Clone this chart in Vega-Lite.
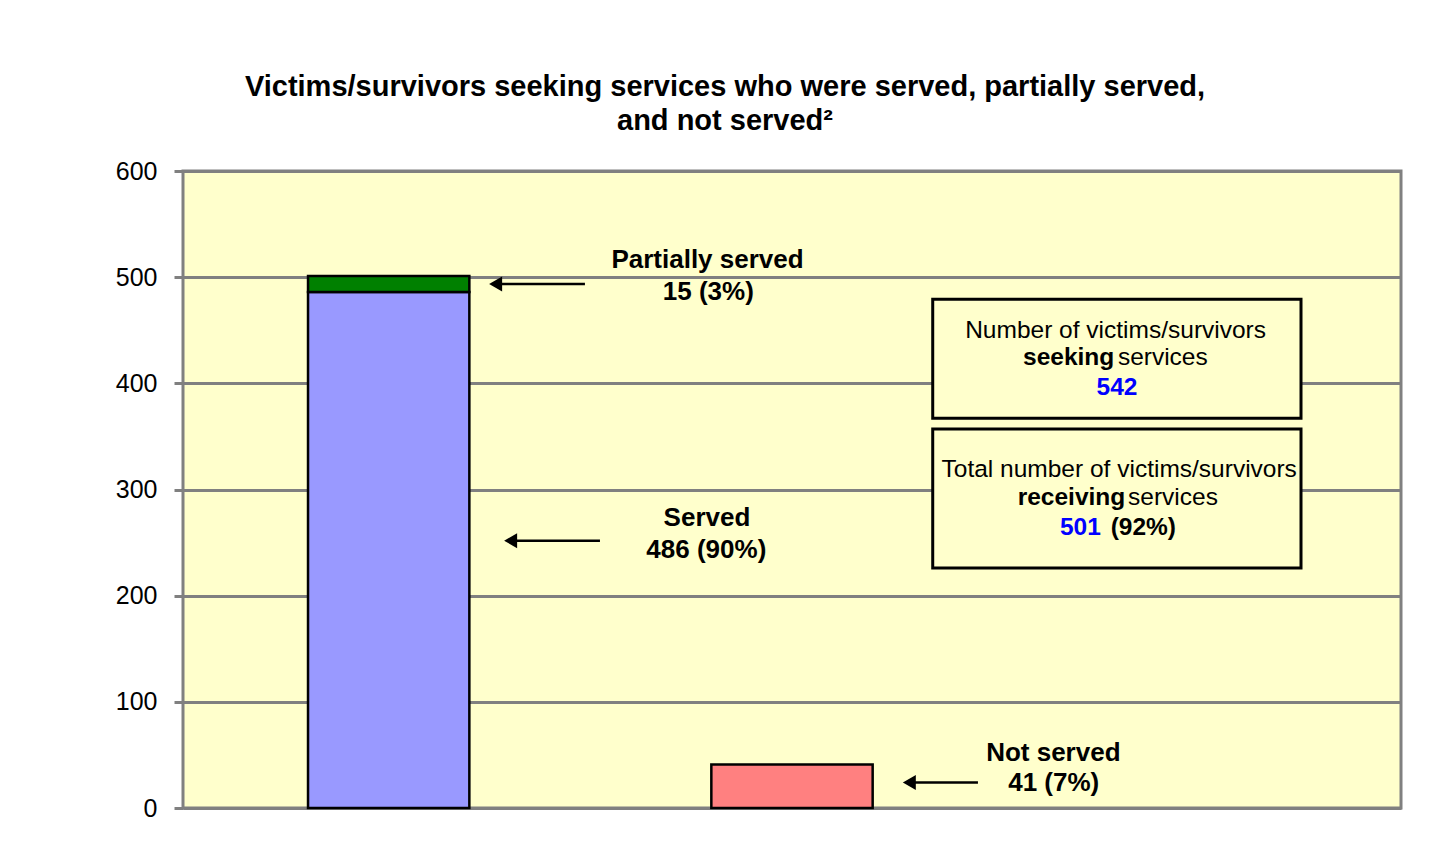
{
  "$schema": "https://vega.github.io/schema/vega-lite/v6.json",
  "autosize": {"type": "none"},
  "width": 1218,
  "height": 637,
  "padding": {"left": 183, "top": 171, "right": 46, "bottom": 56},
  "background": "white",
  "title": {
    "text": ["Victims/survivors seeking services who were served, partially served,", "and not served²"],
    "font": "Liberation Sans",
    "fontSize": 29,
    "fontWeight": "bold",
    "color": "black",
    "lineHeight": 34,
    "anchor": "middle",
    "frame": "group",
    "dx": -67,
    "offset": 23
  },
  "config": {
    "view": {"fill": "#FFFFCC", "stroke": "#808080", "strokeWidth": 3},
    "text": {"font": "Liberation Sans"}
  },
  "datasets": {
    "bars": [
      {"grp": "A", "status": "Served", "count": 486},
      {"grp": "A", "status": "Partially served", "count": 15},
      {"grp": "B", "status": "Not served", "count": 41}
    ],
    "boxes": [
      {"x1": 1.8466, "x2": 2.7537, "y1": 479.2, "y2": 367.2},
      {"x1": 1.8466, "x2": 2.7537, "y1": 356.9, "y2": 226.1}
    ],
    "arrows": [
      {"tip": 0.770, "tail": 0.990, "y": 493.6},
      {"tip": 0.807, "tail": 1.027, "y": 251.8},
      {"tip": 1.789, "tail": 1.958, "y": 24.0}
    ],
    "boldText": [
      {"x": 1.2919, "y": 508.4, "label": "Partially served"},
      {"x": 1.2939, "y": 478.6, "label": "15 (3%)"},
      {"x": 1.2906, "y": 265.2, "label": "Served"},
      {"x": 1.2890, "y": 235.8, "label": "486 (90%)"},
      {"x": 2.1437, "y": 44.0, "label": "Not served"},
      {"x": 2.1446, "y": 15.8, "label": "41 (7%)"}
    ],
    "boxBold": [
      {"x": 2.1815, "y": 417.4, "label": "seeking"},
      {"x": 2.1884, "y": 285.6, "label": "receiving"},
      {"x": 2.3653, "y": 257.4, "label": "(92%)"}
    ],
    "normalText": [
      {"x": 2.2970, "y": 442.5, "label": "Number of victims/survivors"},
      {"x": 2.4133, "y": 417.4, "label": "services"},
      {"x": 2.3059, "y": 311.7, "label": "Total number of victims/survivors"},
      {"x": 2.4384, "y": 285.6, "label": "services"}
    ],
    "blueText": [
      {"x": 2.3005, "y": 389.2, "label": "542"},
      {"x": 2.2102, "y": 257.4, "label": "501"}
    ]
  },
  "resolve": {"scale": {"x": "independent"}},
  "layer": [
    {
      "data": {"name": "bars"},
      "mark": {"type": "bar", "stroke": "black", "strokeWidth": 2.5},
      "encoding": {
        "x": {"field": "grp", "type": "nominal", "scale": {"domain": ["A", "B", "C"], "paddingInner": 0.6, "paddingOuter": 0.31}, "axis": null},
        "y": {
          "field": "count", "type": "quantitative", "stack": "zero",
          "scale": {"domain": [0, 600], "nice": false},
          "axis": {
            "values": [0, 100, 200, 300, 400, 500, 600],
            "title": null,
            "domain": false,
            "ticks": true,
            "tickColor": "#808080",
            "tickWidth": 3,
            "tickSize": 9,
            "labelFont": "Liberation Sans",
            "labelFontSize": 25,
            "labelColor": "black",
            "labelPadding": 17,
            "grid": true,
            "gridColor": "#808080",
            "gridWidth": 3,
            "gridOpacity": 1
          }
        },
        "color": {"field": "status", "type": "nominal", "scale": {"domain": ["Served", "Partially served", "Not served"], "range": ["#9999FF", "#008000", "#FF8080"]}, "legend": null},
        "order": {"field": "status", "sort": "descending"}
      }
    },
    {
      "data": {"name": "boxes"},
      "mark": {"type": "rect", "fill": "#FFFFCC", "stroke": "black", "strokeWidth": 3},
      "encoding": {
        "x": {"field": "x1", "type": "quantitative", "scale": {"domain": [0, 3], "nice": false, "zero": false}, "axis": null},
        "x2": {"field": "x2"},
        "y": {"field": "y1", "type": "quantitative"},
        "y2": {"field": "y2"}
      }
    },
    {
      "data": {"name": "arrows"},
      "mark": {"type": "rule", "color": "black", "strokeWidth": 2.5},
      "encoding": {
        "x": {"field": "tip", "type": "quantitative", "scale": {"domain": [0, 3], "nice": false, "zero": false}, "axis": null},
        "x2": {"field": "tail"},
        "y": {"field": "y", "type": "quantitative"}
      }
    },
    {
      "data": {"name": "arrows"},
      "mark": {"type": "point", "shape": "triangle-left", "filled": true, "color": "black", "size": 225, "opacity": 1},
      "encoding": {
        "x": {"field": "tip", "type": "quantitative", "scale": {"domain": [0, 3], "nice": false, "zero": false}, "axis": null},
        "y": {"field": "y", "type": "quantitative"}
      }
    },
    {
      "data": {"name": "boldText"},
      "mark": {"type": "text", "fontWeight": "bold", "fontSize": 26, "color": "black", "align": "center", "baseline": "alphabetic"},
      "encoding": {
        "x": {"field": "x", "type": "quantitative", "scale": {"domain": [0, 3], "nice": false, "zero": false}, "axis": null},
        "y": {"field": "y", "type": "quantitative"},
        "text": {"field": "label"}
      }
    },
    {
      "data": {"name": "boxBold"},
      "mark": {"type": "text", "fontWeight": "bold", "fontSize": 24.5, "color": "black", "align": "center", "baseline": "alphabetic"},
      "encoding": {
        "x": {"field": "x", "type": "quantitative", "scale": {"domain": [0, 3], "nice": false, "zero": false}, "axis": null},
        "y": {"field": "y", "type": "quantitative"},
        "text": {"field": "label"}
      }
    },
    {
      "data": {"name": "normalText"},
      "mark": {"type": "text", "fontWeight": "normal", "fontSize": 24.5, "color": "black", "align": "center", "baseline": "alphabetic"},
      "encoding": {
        "x": {"field": "x", "type": "quantitative", "scale": {"domain": [0, 3], "nice": false, "zero": false}, "axis": null},
        "y": {"field": "y", "type": "quantitative"},
        "text": {"field": "label"}
      }
    },
    {
      "data": {"name": "blueText"},
      "mark": {"type": "text", "fontWeight": "bold", "fontSize": 24.5, "color": "#0000FF", "align": "center", "baseline": "alphabetic"},
      "encoding": {
        "x": {"field": "x", "type": "quantitative", "scale": {"domain": [0, 3], "nice": false, "zero": false}, "axis": null},
        "y": {"field": "y", "type": "quantitative"},
        "text": {"field": "label"}
      }
    }
  ]
}
